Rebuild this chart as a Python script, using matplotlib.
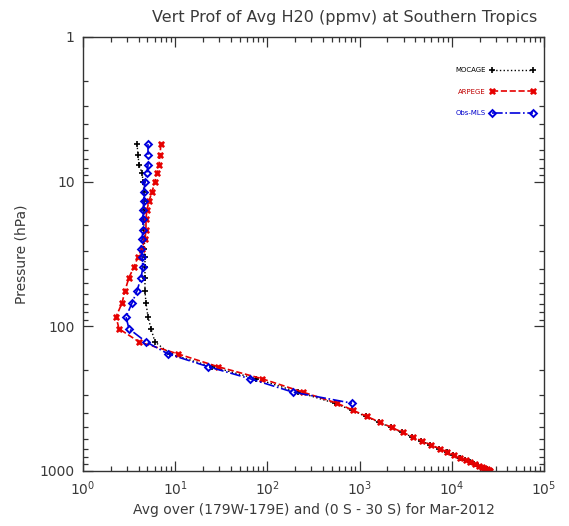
import matplotlib
matplotlib.use('Agg')
import matplotlib.pyplot as plt
from matplotlib.ticker import LogLocator, NullFormatter, FixedLocator, FixedFormatter

# pressure levels (hPa) shared by the model profiles
p_model = [5.5, 6.5, 7.7, 8.7, 10, 11.8, 13.6, 15.7, 18, 21.6, 25, 29, 33, 39,
           46, 57, 69, 86, 104, 128, 155, 190, 230, 285, 340, 380, 420, 460,
           500, 540, 580, 620, 660, 700, 740, 775, 810, 840, 870, 895, 920,
           940, 960, 975, 990, 1000]

mocage = [3.85, 3.95, 4.05, 4.37, 4.48, 4.58, 4.58, 4.58, 4.58, 4.58, 4.7,
          4.58, 4.7, 4.7, 4.7, 4.7, 4.82, 5.07, 5.47, 6.03, 8.8, 25, 75, 215,
          540, 820, 1170, 1620, 2170, 2860, 3680, 4660, 5850, 7230, 8830,
          10400, 12200, 13900, 15700, 17400, 19200, 20700, 22300, 23800,
          25000, 25600]

arpege = [7.0, 6.84, 6.67, 6.35, 6.03, 5.6, 5.2, 4.94, 4.82, 4.82, 4.7, 4.37,
          3.95, 3.57, 3.15, 2.85, 2.65, 2.28, 2.46, 4.05, 10.7, 29, 87, 243,
          570, 848, 1200, 1660, 2220, 2920, 3750, 4750, 5950, 7360, 8980,
          10600, 12400, 14100, 15950, 17630, 19500, 21000, 22600, 24100,
          25300, 25900]

# MLS observation levels
p_mls = [5.5, 6.5, 7.7, 8.7, 10, 11.8, 13.6, 15.7, 18, 21.6, 25, 29, 33, 39,
         46, 57, 69, 86, 104, 128, 155, 190, 230, 285, 340]
mls = [5.07, 5.07, 5.07, 4.94, 4.7, 4.58, 4.58, 4.47, 4.47, 4.47, 4.36, 4.26,
       4.36, 4.47, 4.26, 3.85, 3.4, 2.93, 3.15, 4.83, 8.36, 22.7, 64.5, 189,
       828]

title = 'Vert Prof of Avg H20 (ppmv) at Southern Tropics'
xlabel = 'Avg over (179W-179E) and (0 S - 30 S) for Mar-2012'
ylabel = 'Pressure (hPa)'

txt = '#3a3a3a'

fig = plt.figure(figsize=(5.69, 5.26), dpi=100)
ax = fig.add_axes([83/569, 55/526, 461/569, 434/526])

ax.plot(mocage, p_model, color='black', linestyle=':', linewidth=1,
        marker='+', markersize=4.5, markeredgewidth=1.2, label='MOCAGE')
ax.plot(arpege, p_model, color='#e60000', linestyle='--', linewidth=1.2,
        marker='X', markersize=4.5, markeredgewidth=0.4, label='ARPEGE')
ax.plot(mls, p_mls, color='#0000dd', linestyle='-.', linewidth=1.2,
        marker='D', markersize=3.5, markerfacecolor='none',
        markeredgewidth=1.4, label='Obs-MLS')

ax.set_xscale('log')
ax.set_yscale('log')
ax.set_xlim(1, 1e5)
ax.set_ylim(1000, 1)

ax.xaxis.set_major_locator(LogLocator(base=10, numticks=10))
ax.xaxis.set_minor_locator(LogLocator(base=10, subs=range(2, 10), numticks=10))
ax.xaxis.set_minor_formatter(NullFormatter())
ax.yaxis.set_major_locator(FixedLocator([1, 10, 100, 1000]))
ax.yaxis.set_major_formatter(FixedFormatter(['1', '10', '100', '1000']))
ax.yaxis.set_minor_locator(LogLocator(base=10, subs=range(2, 10), numticks=10))
ax.yaxis.set_minor_formatter(NullFormatter())

ax.tick_params(which='both', direction='in', top=True, right=True,
               colors='#333333', labelcolor=txt, labelsize=10, width=0.9)
ax.tick_params(which='major', length=7, pad=6)
ax.tick_params(which='minor', length=3.5)
for s in ax.spines.values():
    s.set_color('#333333')
    s.set_linewidth(1)

ax.set_xlabel(xlabel, fontsize=10, color=txt, labelpad=4)
ax.set_ylabel(ylabel, fontsize=10, color=txt, labelpad=8)
fig.text(0.605, 0.967, title, ha='center', va='center', fontsize=11.5,
         color=txt)

leg = ax.legend(loc='upper right', bbox_to_anchor=(0.98, 0.93),
                frameon=False, markerfirst=False, numpoints=2,
                fontsize=5, handlelength=6.5, handletextpad=0.6,
                labelspacing=2.2, borderaxespad=0, borderpad=0)
for t, c in zip(leg.get_texts(), ['black', '#c00000', '#0000cc']):
    t.set_color(c)

plt.savefig('out.png', dpi=100)
